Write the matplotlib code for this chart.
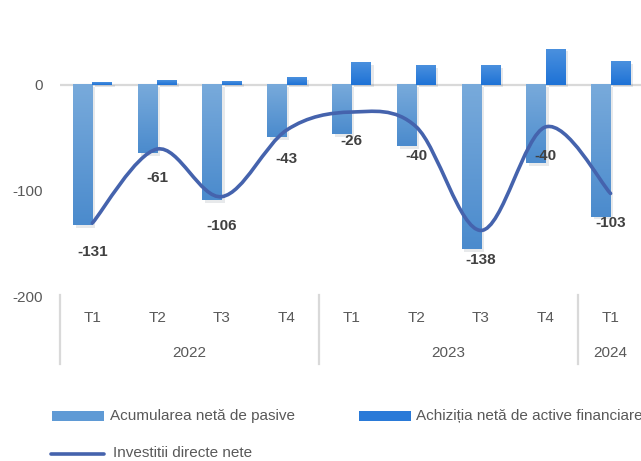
import matplotlib
matplotlib.use('Agg')
import matplotlib.pyplot as plt
import matplotlib.patheffects as pe
import numpy as np
from matplotlib.colors import LinearSegmentedColormap
from matplotlib.lines import Line2D
from matplotlib.patches import Rectangle, PathPatch
from matplotlib.path import Path
from matplotlib.transforms import blended_transform_factory

quarters = ['T1', 'T2', 'T3', 'T4', 'T1', 'T2', 'T3', 'T4', 'T1']
years = ['2022', '2023', '2024']
year_spans = [(0, 3), (4, 7), (8, 8)]
pasive = [-133, -65, -109, -50, -47, -58, -156, -74, -125]
active = [2, 4, 3, 7, 21, 18, 18, 34, 22]
net = [-131, -61, -106, -43, -26, -40, -138, -40, -103]

plt.rcParams['font.family'] = ['Liberation Sans', 'DejaVu Sans']
plt.rcParams['axes.unicode_minus'] = False
GRAY = '#595959'
FS = 11

W, H = 641, 461
fig = plt.figure(figsize=(W / 100, H / 100), dpi=100)
ax = fig.add_axes([60 / W, 1 - 296 / H, 581 / W, 296 / H])
ax.set_xlim(-0.5, 8.47)
ax.set_ylim(-200, 80)
for s in ax.spines.values():
    s.set_visible(False)
ax.set_xticks([])
ax.set_yticks([-200, -100, 0])
ax.tick_params(axis='y', length=0, pad=12, labelsize=FS, labelcolor=GRAY)

ax.axhline(0, color='#d9d9d9', lw=1.6, zorder=1)

x = np.arange(len(quarters))
bw = 0.3
cm_pas = LinearSegmentedColormap.from_list('pas', ['#78aadb', '#4b8bcd'])
cm_act = LinearSegmentedColormap.from_list('act', ['#4a90de', '#1e72d6'])
shadow = [pe.SimplePatchShadow(offset=(2, -2), alpha=0.1), pe.Normal()]


def gradient_bars(xs, vals, cmap, base):
    bars = ax.bar(xs, vals, width=bw, color=base, zorder=2)
    for b in bars:
        b.set_path_effects(shadow)
        x0, y0 = b.get_x(), b.get_y()
        x1, y1 = x0 + b.get_width(), y0 + b.get_height()
        grad = np.linspace(0, 1, 64).reshape(-1, 1)
        top, bot = max(y0, y1), min(y0, y1)
        ax.imshow(grad, extent=[x0, x1, bot, top], origin='upper', aspect='auto',
                  cmap=cmap, zorder=3)
    return bars


gradient_bars(x - 0.15, pasive, cm_pas, '#5f9ad5')
gradient_bars(x + 0.15, active, cm_act, '#2f7fd9')

# smooth line (Excel-style Bezier smoothing)
pts = np.column_stack([x, net]).astype(float)
verts = [pts[0]]
codes = [Path.MOVETO]
n = len(pts)
for i in range(n - 1):
    p0 = pts[max(i - 1, 0)]
    p1 = pts[i]
    p2 = pts[i + 1]
    p3 = pts[min(i + 2, n - 1)]
    c1 = p1 + (p2 - p0) / 6
    c2 = p2 - (p3 - p1) / 6
    verts += [c1, c2, p2]
    codes += [Path.CURVE4] * 3
ax.add_patch(PathPatch(Path(verts, codes), fill=False, edgecolor='#4563ad',
                       lw=2.6, capstyle='round', zorder=5))

for xi, v in zip(x, net):
    ax.annotate(str(v), (xi, v), xytext=(0, -21), textcoords='offset points',
                ha='center', va='center', fontsize=FS, fontweight='bold',
                color='#404040', zorder=6)

ax.set_xlim(-0.5, 8.47)
ax.set_ylim(-200, 80)

# category axis
tr = blended_transform_factory(ax.transData, fig.transFigure)
for xi, q in zip(x, quarters):
    ax.text(xi, 1 - 318 / H, q, transform=tr, ha='center', va='center',
            fontsize=FS, color=GRAY, clip_on=False)
for (a, b), yr in zip(year_spans, years):
    ax.text((a + b) / 2, 1 - 353 / H, yr, transform=tr, ha='center', va='center',
            fontsize=FS, color=GRAY, clip_on=False)
for sx in [-0.5, 3.5, 7.5]:
    ax.add_line(Line2D([sx, sx], [1 - 295 / H, 1 - 364 / H], transform=tr,
                       color='#d9d9d9', lw=1.6, clip_on=False))

# legend
ft = fig.transFigure
fig.patches.append(Rectangle((52 / W, 1 - 421 / H), 52 / W, 10 / H, transform=ft,
                             facecolor='#5f9ad5', edgecolor='none'))
fig.text(110 / W, 1 - 416 / H, 'Acumularea netă de pasive', fontsize=FS,
         color=GRAY, va='center', ha='left')
fig.patches.append(Rectangle((359 / W, 1 - 421 / H), 52 / W, 10 / H, transform=ft,
                             facecolor='#2a7ad8', edgecolor='none'))
fig.text(416 / W, 1 - 416 / H, 'Achiziția netă de active financiare', fontsize=FS,
         color=GRAY, va='center', ha='left')
fig.lines.append(Line2D([51 / W, 104 / W], [1 - 454 / H, 1 - 454 / H], transform=ft,
                        color='#4563ad', lw=2.6, solid_capstyle='round'))
fig.text(113 / W, 1 - 453 / H, 'Investitii directe nete', fontsize=FS,
         color=GRAY, va='center', ha='left')

fig.savefig('out.png', dpi=100)
